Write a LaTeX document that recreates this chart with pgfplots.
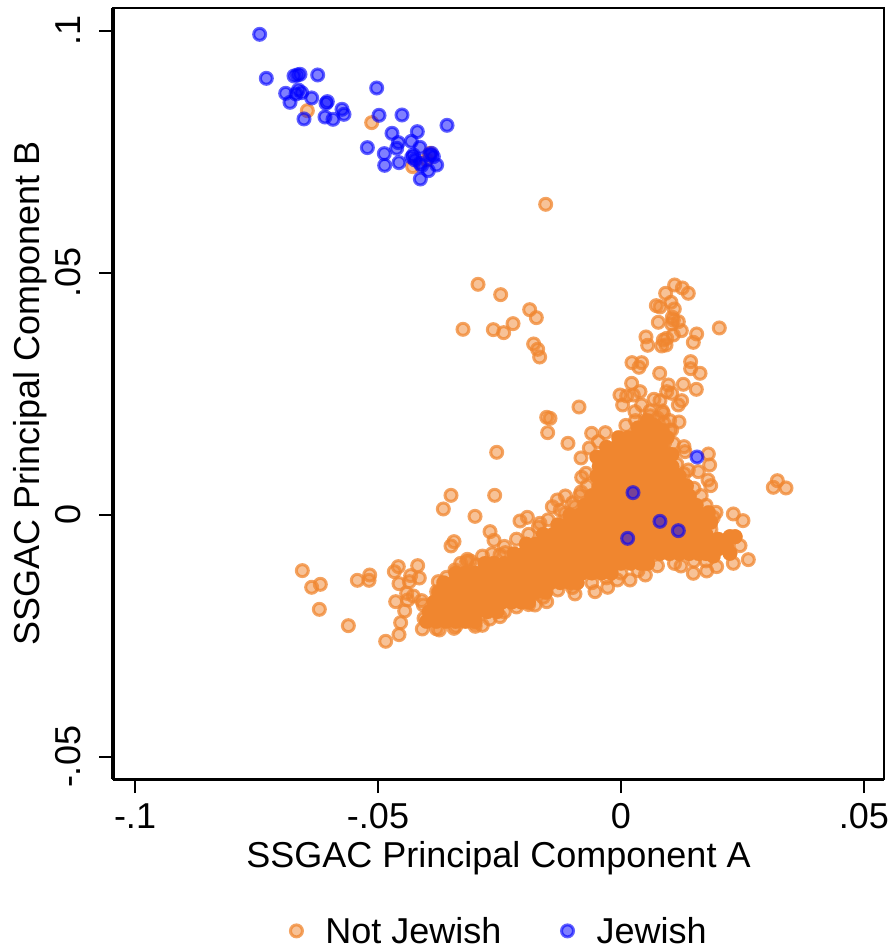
\documentclass[border=0pt]{standalone}
\usepackage{pgfplots}
\pgfplotsset{compat=1.18}
\usepackage{fontspec}
\setmainfont{Liberation Sans}
\definecolor{cOr}{HTML}{F0862F}
\definecolor{cBl}{HTML}{0000FF}
\begin{document}
\begin{tikzpicture}[x=1pt,y=1pt]
\path[use as bounding box] (-113,-170) rectangle (775,779);
\begin{axis}[
  at={(0,0)},anchor=south west,scale only axis,
  width=771pt,height=771pt,
  xmin=-0.10453,xmax=0.05412,ymin=-0.05455,ymax=0.10475,
  xtick={-0.1,-0.05,0,0.05},xticklabels={-.1,-.05,0,.05},
  ytick={-0.05,0,0.05,0.1},yticklabels={-.05,0,.05,.1},
  tick align=outside,tick pos=left,
  tick style={black,line width=2pt},major tick length=14pt,
  axis line style={black,line width=1.8pt},
  every axis plot/.append style={only marks},
  font=\fontsize{36}{42}\selectfont,
  tick label style={font=\fontsize{36}{42}\selectfont},
  label style={font=\fontsize{36}{42}\selectfont},
  xticklabel style={yshift=-7pt},
  yticklabel style={rotate=90,anchor=south,yshift=15pt},
  xlabel={SSGAC Principal Component A},
  ylabel={SSGAC Principal Component B},
  xlabel style={yshift=-6pt},
  ylabel style={yshift=1pt},
  legend style={at={(0.5013,-0.197)},anchor=center,draw=none,fill=none,legend columns=2,
    /tikz/every even column/.style={column sep=58pt},
    /tikz/column 1/.style={column sep=21pt},
    /tikz/column 3/.style={column sep=21pt},
    font=\fontsize{36}{42}\selectfont,inner sep=0pt},
  legend cell align=left,
  clip=false,
]
\addplot[only marks,mark=*,mark size=6pt,mark options={draw=cOr,fill=cOr,line width=3pt,draw opacity=.75,fill opacity=.5}] coordinates {
(-.06454,.08354)(-.05130,.08106)(-.04287,.07197)(-.03930,.07472)(-.03999,.07335)
(-.01550,.06419)(-.02942,.04766)(-.02476,.04552)(-.01879,.04242)(-.01742,.04077)(-.02222,.03953)(-.02627,.03829)(-.02414,.03767)(-.03251,.03836)(-.01797,.03533)(-.01715,.03423)(-.01674,.03264)
(.01104,.04752)(.01262,.04690)(.01385,.04580)(.00919,.04580)(.01029,.04394)(.01097,.04256)(.00727,.04325)(.00802,.04298)(.01056,.04084)(.01077,.04029)(.01180,.03994)(.00768,.03981)(.01043,.03946)(.01241,.03808)(.01557,.03740)(.02023,.03864)(.01488,.03567)(.00514,.03678)(.00549,.03506)(.01077,.03719)(.00940,.03650)(.00871,.03616)(.00837,.03492)(.00926,.03512)(.00226,.03147)(.00425,.03147)(.00370,.03051)(.00796,.02927)(.01433,.03168)(.01433,.03023)(.01626,.02927)
(.00219,.02720)(.00391,.02548)(-.00021,.02479)(.00117,.02459)(.00254,.02479)(.00034,.02273)(-.00864,.02231)(.00679,.02390)(.00802,.02362)(.00974,.02686)(.00940,.02548)(.01283,.02700)(.01550,.02596)(.01248,.02362)(.01180,.02273)(.01043,.02514)(.00425,.02273)(.00288,.02135)(.00871,.02101)(.01193,.01921)(.01043,.01756)(-.01529,.02018)(-.01461,.01997)(-.01509,.01701)(-.01091,.01481)(-.00604,.01687)(-.00322,.01701)(-.00466,.01515)(-.00652,.01384)(-.00823,.01178)(.01797,.01260)(.01824,.01033)(.01296,.01412)(.01077,.01481)(.01317,.01309)(.01385,.00930)(.01591,.00895)(.01790,.00723)(.01845,.00606)(-.00809,.00778)(-.00720,.00861)(-.00823,.00475)(-.01145,.00393)(-.01310,.00310)(-.01413,.00172)(-.01152,.00034)(-.00947,.00172)(-.01927,-.00048)(-.02078,-.00124)(-.01667,-.00172)
(.03217,.00709)(.03134,.00572)(.03395,.00558)(.02311,.00021)(.02510,-.00117)(.01955,.00055)(.02620,-.00923)(.02449,-.00634)(.02311,-.00999)(.01968,-.01067)(.01763,-.01157)(.01488,-.01205)(.01235,-.01054)(.02243,-.00448)(.02346,-.00448)(.02174,-.00654)(.02243,-.00792)(.00501,-.01240)(.00185,-.01343)(-.00075,-.01343)(-.00274,-.01494)(-.00535,-.01584)(-.00947,-.01632)(-.01529,-.01791)(-.01770,-.01860)
(-.02558,.01295)(-.03498,.00406)(-.02599,.00406)(-.03656,.00124)(-.03004,-.00028)(-.02695,-.00344)(-.02613,-.00523)(-.03436,-.00551)(-.03498,-.00640)(-.03162,-.00916)(-.02490,-.00826)(-.02380,-.00778)
(-.06557,-.01150)(-.06187,-.01433)(-.06365,-.01494)(-.06207,-.01949)(-.05610,-.02287)(-.05425,-.01350)(-.05171,-.01240)(-.05185,-.01350)(-.04582,-.01067)(-.04664,-.01171)(-.04184,-.01047)(-.04150,-.01302)(-.04328,-.01253)(-.04568,-.01419)(-.04355,-.01377)(-.04410,-.01618)(-.04273,-.01674)(-.04636,-.01791)(-.04102,-.01770)(-.04390,-.01756)(-.04451,-.01983)(-.04067,-.01860)(-.04534,-.02225)(-.04568,-.02472)(-.04842,-.02610)(-.04088,-.02355)(-.04053,-.02135)(-.03738,-.02376)(-.03436,-.02342)(-.02853,-.02280)(-.03004,-.02238)(-.03759,-.01377)(-.03587,-.01288)(-.03416,-.01136)(-.03176,-.00964)(-.03793,-.01584)(-.02970,-.01033)(-.02627,-.00999)(-.02490,-.02101)
(.0060,.0205)(.0075,.0200)(.0088,.0190)(.0100,.0175)(.0085,.0165)(.0050,.0195)(.0030,.0195)(.0010,.0185)(.0060,.0215)(.0085,.0215)(.0100,.0195)
(-.0330,-.0100)(-.0310,-.0095)(-.0285,-.0085)(-.0265,-.0080)(-.0240,-.0065)(-.0215,-.0050)(-.0190,-.0040)(-.0170,-.0025)(-.0150,-.0010)(-.0125,.0010)(-.0100,.0025)(-.0085,.0040)(-.0070,.0060)
(-.0380,-.0235)(-.0340,-.0230)(-.0300,-.0230)(-.0270,-.0215)(-.0240,-.0200)(-.0215,-.0190)(-.0190,-.0185)(-.0160,-.0170)(-.0130,-.0155)(-.0100,-.0150)(-.0060,-.0140)(-.0030,-.0130)(0,-.0120)(.0035,-.0115)(.0075,-.0105)(.0110,-.0100)(.0150,-.0095)(.0175,-.0095)
(.0185,-.0030)(.0190,-.0005)(.0175,.0020)(.0165,.0040)(.0150,.0055)(.0130,.0085)(.0115,.0105)(.0100,.0125)(.0090,.0150)
};
\addlegendentry{Not Jewish}
\addplot[only marks,mark=*,mark size=7.3pt,mark options={draw=cOr,line width=0.2pt,fill=cOr},forget plot] coordinates {
(.0035,.018)(.0055,.018)
(-.0005,.016)(.0015,.016)(.0035,.016)(.0055,.016)(.0075,.016)
(-.0030,.014)(-.0010,.014)(.0010,.014)(.0030,.014)(.0050,.014)(.0070,.014)(.0082,.014)
(-.0050,.012)(-.0030,.012)(-.0010,.012)(.0010,.012)(.0030,.012)(.0050,.012)(.0070,.012)(.0090,.012)
(-.0045,.010)(-.0025,.010)(-.0005,.010)(.0015,.010)(.0035,.010)(.0055,.010)(.0075,.010)(.0095,.010)(.0105,.010)
(-.0050,.008)(-.0030,.008)(-.0010,.008)(.0010,.008)(.0030,.008)(.0050,.008)(.0070,.008)(.0090,.008)(.0110,.008)(.0120,.008)
(-.0045,.006)(-.0025,.006)(-.0005,.006)(.0015,.006)(.0035,.006)(.0055,.006)(.0075,.006)(.0095,.006)(.0115,.006)(.0135,.006)
(-.0060,.004)(-.0040,.004)(-.0020,.004)(0,.004)(.0020,.004)(.0040,.004)(.0060,.004)(.0080,.004)(.0100,.004)(.0120,.004)(.0140,.004)
(-.0075,.002)(-.0055,.002)(-.0035,.002)(-.0015,.002)(.0005,.002)(.0025,.002)(.0045,.002)(.0065,.002)(.0085,.002)(.0105,.002)(.0125,.002)(.0145,.002)(.0155,.002)
(-.0105,0)(-.0085,0)(-.0065,0)(-.0045,0)(-.0025,0)(-.0005,0)(.0015,0)(.0035,0)(.0055,0)(.0075,0)(.0095,0)(.0115,0)(.0135,0)(.0155,0)(.0162,0)
(-.0130,-.002)(-.0110,-.002)(-.0090,-.002)(-.0070,-.002)(-.0050,-.002)(-.0030,-.002)(-.0010,-.002)(.0010,-.002)(.0030,-.002)(.0050,-.002)(.0070,-.002)(.0090,-.002)(.0110,-.002)(.0130,-.002)(.0150,-.002)(.0168,-.002)
(-.0160,-.004)(-.0140,-.004)(-.0120,-.004)(-.0100,-.004)(-.0080,-.004)(-.0060,-.004)(-.0040,-.004)(-.0020,-.004)(0,-.004)(.0020,-.004)(.0040,-.004)(.0060,-.004)(.0080,-.004)(.0100,-.004)(.0120,-.004)(.0140,-.004)(.0160,-.004)(.0175,-.004)
(-.0195,-.006)(-.0175,-.006)(-.0155,-.006)(-.0135,-.006)(-.0115,-.006)(-.0095,-.006)(-.0075,-.006)(-.0055,-.006)(-.0035,-.006)(-.0015,-.006)(.0005,-.006)(.0025,-.006)(.0045,-.006)(.0065,-.006)(.0085,-.006)(.0105,-.006)(.0125,-.006)(.0145,-.006)(.0165,-.006)(.0175,-.006)
(-.0220,-.008)(-.0200,-.008)(-.0180,-.008)(-.0160,-.008)(-.0140,-.008)(-.0120,-.008)(-.0100,-.008)(-.0080,-.008)(-.0060,-.008)(-.0040,-.008)(-.0020,-.008)(0,-.008)(.0020,-.008)(.0040,-.008)(.0060,-.008)(.0080,-.008)(.0100,-.008)(.0120,-.008)(.0140,-.008)(.0160,-.008)(.0175,-.008)
(-.0280,-.010)(-.0260,-.010)(-.0240,-.010)(-.0220,-.010)(-.0200,-.010)(-.0180,-.010)(-.0160,-.010)(-.0140,-.010)(-.0120,-.010)(-.0100,-.010)(-.0080,-.010)(-.0060,-.010)(-.0040,-.010)(-.0020,-.010)(0,-.010)(.0020,-.010)(.0040,-.010)(.0055,-.010)
(-.0340,-.012)(-.0320,-.012)(-.0300,-.012)(-.0280,-.012)(-.0260,-.012)(-.0240,-.012)(-.0220,-.012)(-.0200,-.012)(-.0180,-.012)(-.0160,-.012)(-.0140,-.012)(-.0120,-.012)(-.0100,-.012)(-.0080,-.012)(-.0060,-.012)(-.0040,-.012)(-.0020,-.012)
(-.0365,-.014)(-.0345,-.014)(-.0325,-.014)(-.0305,-.014)(-.0285,-.014)(-.0265,-.014)(-.0245,-.014)(-.0225,-.014)(-.0205,-.014)(-.0185,-.014)(-.0165,-.014)(-.0145,-.014)(-.0125,-.014)(-.0105,-.014)(-.0090,-.014)
(-.0375,-.016)(-.0355,-.016)(-.0335,-.016)(-.0315,-.016)(-.0295,-.016)(-.0275,-.016)(-.0255,-.016)(-.0235,-.016)(-.0215,-.016)(-.0195,-.016)(-.0175,-.016)(-.0155,-.016)
(-.0385,-.018)(-.0365,-.018)(-.0345,-.018)(-.0325,-.018)(-.0305,-.018)(-.0285,-.018)(-.0265,-.018)(-.0245,-.018)(-.0225,-.018)(-.0205,-.018)(-.0190,-.018)
(-.0395,-.020)(-.0375,-.020)(-.0355,-.020)(-.0335,-.020)(-.0315,-.020)(-.0295,-.020)(-.0275,-.020)(-.0255,-.020)
(-.0400,-.022)(-.0380,-.022)(-.0360,-.022)(-.0340,-.022)(-.0320,-.022)(-.0300,-.022)
(.0224,-.0045)(.0235,-.0045)(.0217,-.0065)(.0224,-.0079)(.0200,-.0050)(.0200,-.0070)(.0190,-.0085)(.0185,-.0015)(.0180,.0005)
(.0055,.0195)(.0070,.0185)(.0085,.0175)(.0095,.0160)(.0105,.0125)
};
\addplot[only marks,mark=*,mark size=6pt,mark options={draw=cBl,fill=cBl,line width=3pt,draw opacity=.62,fill opacity=.5}] coordinates {
(-.07435,.09931)(-.07298,.09022)(-.06728,.09070)(-.06660,.09091)(-.06605,.09105)(-.06241,.09091)(-.05027,.08822)(-.06900,.08712)(-.06811,.08526)(-.06639,.08781)(-.06687,.08698)(-.06571,.08726)(-.06365,.08616)(-.06043,.08540)(-.06070,.08505)(-.05741,.08382)(-.05700,.08278)(-.06091,.08223)(-.05926,.08175)(-.06523,.08182)(-.04979,.08258)(-.04506,.08264)(-.03580,.08051)(-.04712,.07886)(-.04191,.07920)(-.04582,.07693)(-.04616,.07576)(-.04314,.07720)(-.05219,.07590)(-.04870,.07466)(-.04863,.07224)(-.04568,.07280)(-.04136,.07596)(-.04273,.07438)(-.04307,.07390)(-.03896,.07472)(-.03930,.07438)(-.03861,.07403)(-.03793,.07231)(-.04102,.07218)(-.03964,.07114)(-.04129,.06942)(-.04136,.07266)(-.04239,.07335)
(.01564,.01198)(.00247,.00461)(.00802,-.00131)(.01180,-.00324)(.00137,-.00482)
};
\addlegendentry{Jewish}
\draw[black,line width=3.5pt] (rel axis cs:0,0) -- (rel axis cs:0,1);
\draw[black,line width=3pt] (rel axis cs:0,0) -- (rel axis cs:1,0);
\end{axis}
\end{tikzpicture}
\end{document}
